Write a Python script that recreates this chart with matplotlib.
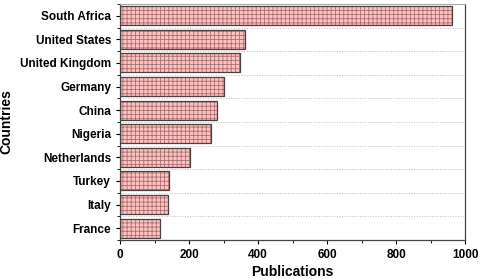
import matplotlib
matplotlib.use("Agg")
import matplotlib.pyplot as plt
from matplotlib.ticker import MultipleLocator

# data
countries = ["South Africa", "United States", "United Kingdom", "Germany", "China",
             "Nigeria", "Netherlands", "Turkey", "Italy", "France"]
publications = [962, 363, 348, 302, 281, 265, 203, 142, 139, 116]

plt.rcParams['font.family'] = ['Liberation Sans', 'DejaVu Sans']
plt.rcParams['font.weight'] = 'bold'
plt.rcParams['hatch.linewidth'] = 0.6

fig = plt.figure(figsize=(4.8, 2.79), dpi=100)
ax = fig.add_axes([0.25, 0.14, 0.719, 0.846])

# bottom to top order
labels = countries[::-1]
vals = publications[::-1]
ypos = list(range(len(labels)))

# hatched fill layer then outline layer
ax.barh(ypos, vals, height=0.8, color='#ffc0c0', edgecolor='#a87070',
        hatch='++++', linewidth=0, zorder=2)
ax.barh(ypos, vals, height=0.8, color='none', edgecolor='#4a4040',
        linewidth=0.9, zorder=3)

ax.set_yticks(ypos)
ax.set_yticklabels(labels, fontsize=8.5, fontweight='bold')
ax.set_ylim(-0.5, len(labels) - 0.5)
ax.yaxis.set_minor_locator(MultipleLocator(1, offset=0.5))
ax.grid(True, which='minor', axis='y', linestyle=':', color='#bbbbbb', linewidth=0.7)

ax.set_xlim(0, 1000)
ax.xaxis.set_major_locator(MultipleLocator(200))
ax.xaxis.set_minor_locator(MultipleLocator(100))
for t in ax.get_xticklabels():
    t.set_fontweight('bold')
ax.tick_params(axis='x', labelsize=8.5, length=3, width=0.8)
ax.tick_params(axis='y', length=3, width=0.8)
ax.tick_params(which='minor', length=2, width=0.6)

ax.set_xlabel('Publications', fontsize=10, fontweight='bold', labelpad=3)
ax.set_ylabel('Countries', fontsize=10, fontweight='bold')
ax.yaxis.set_label_coords(-0.31, 0.5)

for s in ['left', 'bottom', 'right']:
    ax.spines[s].set_color('#444444')
    ax.spines[s].set_linewidth(0.9)
ax.spines['top'].set_color('#aaaaaa')

fig.savefig('out.png', dpi=100)
